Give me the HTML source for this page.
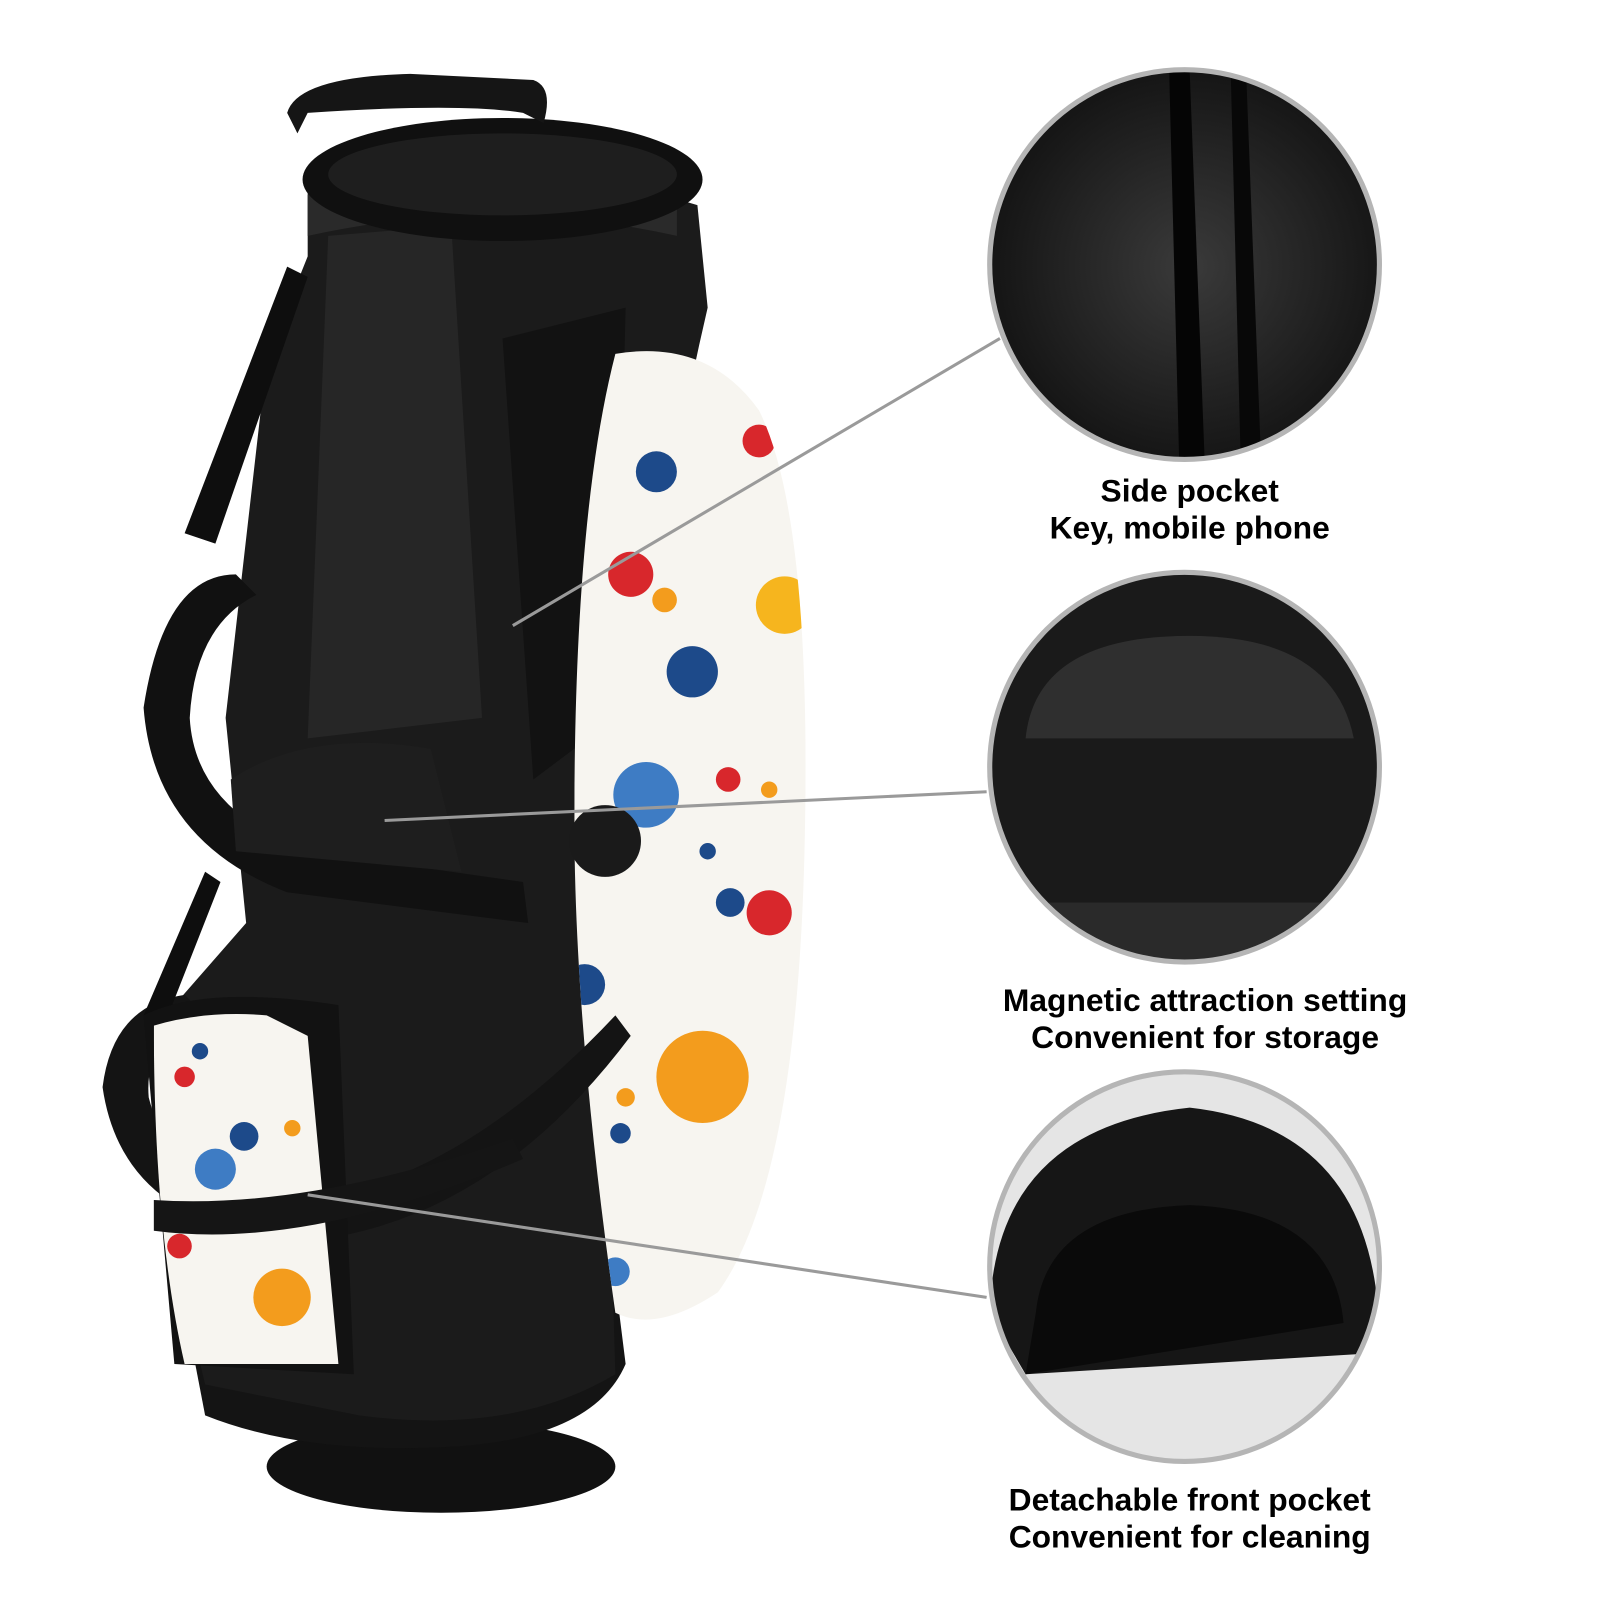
<!DOCTYPE html>
<html><head><meta charset="utf-8"><style>
html,body{margin:0;padding:0;background:#fff;width:1600px;height:1600px;overflow:hidden}
svg{display:block}
text{font-family:"Liberation Sans",sans-serif;font-weight:bold;font-size:31px;fill:#000}
</style></head><body>
<svg width="1600" height="1600" viewBox="0 0 1600 1600">
<defs>
<clipPath id="c1"><circle cx="1155" cy="258" r="188"/></clipPath>
<clipPath id="c2"><circle cx="1155" cy="748" r="188"/></clipPath>
<clipPath id="c3"><circle cx="1155" cy="1235" r="188"/></clipPath>
<clipPath id="oval"><path d="M600 345 Q690 330 740 400 Q790 500 785 800 Q780 1150 700 1260 Q640 1300 600 1280 Q560 1000 560 800 Q560 500 600 345Z"/></clipPath>
<clipPath id="fp"><path d="M150 1000 Q200 985 260 990 L300 1010 L330 1330 L180 1330 Q150 1200 150 1000Z"/></clipPath>
<radialGradient id="g1" cx="0.5" cy="0.5" r="0.6"><stop offset="0" stop-color="#3a3a3a"/><stop offset="1" stop-color="#0c0c0c"/></radialGradient>
</defs>
<g transform="scale(1.0256)">
<!-- bag base -->
<ellipse cx="430" cy="1430" rx="170" ry="45" fill="#111"/>
<path d="M175 1250 L200 1380 Q300 1420 450 1410 Q580 1400 610 1330 L600 1250Z" fill="#141414"/>
<!-- main body -->
<path d="M300 180 Q480 140 680 200 L690 300 Q620 600 590 1000 L600 1340 Q500 1400 350 1380 L200 1350 Q140 1100 170 980 L240 900 L220 700 L260 350 L300 250Z" fill="#1b1b1b"/>
<path d="M320 230 L440 220 L470 700 L300 720 Z" fill="#262626"/>
<path d="M300 230 Q480 190 660 230 L660 200 Q480 150 300 190Z" fill="#2a2a2a"/>
<!-- top rim & handle -->
<ellipse cx="490" cy="175" rx="195" ry="60" fill="#101010"/>
<ellipse cx="490" cy="170" rx="170" ry="40" fill="#1e1e1e"/>
<path d="M280 110 Q290 75 400 72 L520 78 Q540 85 530 120 L510 110 Q450 100 300 110 L290 130Z" fill="#151515"/>
<!-- side pocket zip region -->
<path d="M490 330 L610 300 L600 700 L520 760Z" fill="#121212"/>
<!-- splatter oval -->
<g clip-path="url(#oval)">
<rect x="540" y="320" width="260" height="1000" fill="#f7f5f0"/>
<circle cx="640" cy="460" r="20" fill="#1d4a8a"/>
<circle cx="740" cy="430" r="16" fill="#d8272c"/>
<circle cx="615" cy="560" r="22" fill="#d8272c"/>
<circle cx="648" cy="585" r="12" fill="#f39c1d"/>
<circle cx="765" cy="590" r="28" fill="#f6b51e"/>
<circle cx="675" cy="655" r="25" fill="#1d4a8a"/>
<circle cx="630" cy="775" r="32" fill="#3e7cc4"/>
<circle cx="710" cy="760" r="12" fill="#d8272c"/>
<circle cx="750" cy="770" r="8" fill="#f39c1d"/>
<circle cx="690" cy="830" r="8" fill="#1d4a8a"/>
<circle cx="712" cy="880" r="14" fill="#1d4a8a"/>
<circle cx="750" cy="890" r="22" fill="#d8272c"/>
<circle cx="685" cy="1050" r="45" fill="#f39c1d"/>
<circle cx="605" cy="1105" r="10" fill="#1d4a8a"/>
<circle cx="610" cy="1070" r="9" fill="#f39c1d"/>
<circle cx="600" cy="1240" r="14" fill="#3e7cc4"/>
<circle cx="570" cy="960" r="20" fill="#1d4a8a"/>
</g>
<!-- straps -->
<path d="M140 690 Q160 560 230 560 L250 580 Q190 610 185 700 Q190 790 300 830 L510 860 L515 900 L280 870 Q150 820 140 690Z" fill="#111"/>
<path d="M100 1060 Q110 980 180 970 L200 990 Q140 1010 145 1070 Q170 1170 300 1170 Q450 1150 600 990 L615 1010 Q480 1190 300 1210 Q120 1200 100 1060Z" fill="#141414"/>
<path d="M180 520 L280 260 L300 270 L210 530Z" fill="#0e0e0e"/>
<path d="M140 990 L200 850 L215 860 L160 1000Z" fill="#0e0e0e"/>
<!-- mid pocket -->
<path d="M225 760 Q300 710 420 730 L450 850 L230 830Z" fill="#1e1e1e"/>
<circle cx="590" cy="820" r="35" fill="#1a1a1a"/>
<!-- front pocket -->
<path d="M140 990 Q200 960 330 980 L345 1340 L170 1330Z" fill="#121212"/>
<g clip-path="url(#fp)">
<rect x="140" y="980" width="200" height="360" fill="#f7f5f0"/>
<circle cx="180" cy="1050" r="10" fill="#d8272c"/>
<circle cx="195" cy="1025" r="8" fill="#1d4a8a"/>
<circle cx="238" cy="1108" r="14" fill="#1d4a8a"/>
<circle cx="210" cy="1140" r="20" fill="#3e7cc4"/>
<circle cx="275" cy="1265" r="28" fill="#f39c1d"/>
<circle cx="175" cy="1215" r="12" fill="#d8272c"/>
<circle cx="285" cy="1100" r="8" fill="#f39c1d"/>
</g>
<path d="M150 1170 Q300 1180 500 1110 L510 1130 Q300 1220 150 1200Z" fill="#151515"/>
<!-- leader lines -->
<g stroke="#9a9a9a" stroke-width="3">
<line x1="500" y1="610" x2="975" y2="330"/>
<line x1="375" y1="800" x2="962" y2="772"/>
<line x1="300" y1="1165" x2="962" y2="1265"/>
</g>
<!-- circles -->
<g clip-path="url(#c1)"><rect x="960" y="60" width="400" height="400" fill="url(#g1)"/>
<path d="M1140 70 L1160 70 L1175 460 L1150 460Z" fill="#050505"/><path d="M1200 70 L1215 70 L1230 460 L1210 460Z" fill="#080808"/></g>
<circle cx="1155" cy="258" r="190" fill="none" stroke="#b5b5b5" stroke-width="5"/>
<g clip-path="url(#c2)"><rect x="960" y="550" width="400" height="400" fill="#1a1a1a"/>
<path d="M1000 720 Q1010 620 1160 620 Q1300 620 1320 720Z" fill="#2f2f2f"/>
<rect x="960" y="880" width="400" height="60" fill="#2a2a2a"/></g>
<circle cx="1155" cy="748" r="190" fill="none" stroke="#b5b5b5" stroke-width="5"/>
<g clip-path="url(#c3)"><rect x="960" y="1040" width="400" height="400" fill="#e5e5e5"/>
<path d="M965 1280 Q970 1100 1160 1080 Q1340 1100 1345 1300 L1330 1320 L1000 1340Z" fill="#161616"/>
<path d="M1010 1280 Q1020 1180 1160 1175 Q1300 1180 1310 1290 L1000 1340Z" fill="#0a0a0a"/></g>
<circle cx="1155" cy="1235" r="190" fill="none" stroke="#b5b5b5" stroke-width="5"/>
<!-- labels -->
<text x="1160" y="489" text-anchor="middle">Side pocket</text>
<text x="1160" y="525" text-anchor="middle">Key, mobile phone</text>
<text x="1175" y="986" text-anchor="middle">Magnetic attraction setting</text>
<text x="1175" y="1022" text-anchor="middle">Convenient for storage</text>
<text x="1160" y="1473" text-anchor="middle">Detachable front pocket</text>
<text x="1160" y="1509" text-anchor="middle">Convenient for cleaning</text>
</g>
</svg>
</body></html>
